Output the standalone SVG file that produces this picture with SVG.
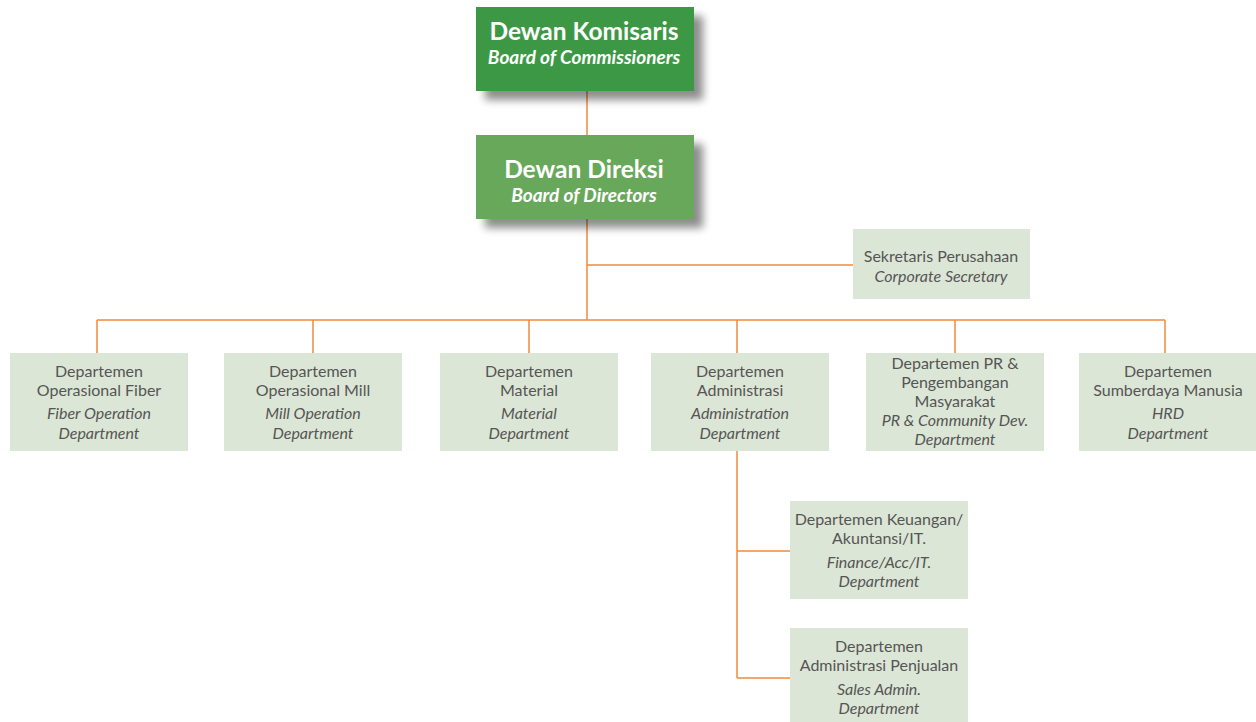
<svg xmlns="http://www.w3.org/2000/svg" width="1256" height="722" viewBox="0 0 1256 722">
<defs>
<filter id="sh" x="-20%" y="-30%" width="150%" height="170%">
<feGaussianBlur in="SourceAlpha" stdDeviation="4"/>
<feOffset dx="9" dy="9" result="b"/>
<feComponentTransfer><feFuncA type="linear" slope="0.45"/></feComponentTransfer>
<feMerge><feMergeNode/><feMergeNode in="SourceGraphic"/></feMerge>
</filter>
</defs>
<style>
.dept{fill:#dce6d6}
.t{font-family:Lato,"Open Sans",sans-serif;font-size:16px;fill:#555;text-anchor:middle}
.i{font-style:italic}
.h{font-family:Lato,"Open Sans",sans-serif;fill:#fff;text-anchor:middle;font-weight:bold}
.ln{stroke:#f08a3c;stroke-width:1.5;fill:none}
</style>
<rect width="1256" height="722" fill="#fff"/>
<g id="connectors">
<path class="ln" d="M587 91V135M587 219V320M587 265H853M97 320H1165M97 320V353M313 320V353M529 320V353M737 320V353M955 320V353M1165 320V353M737 451V678M737 551H790M737 678H790"/>
</g>
<g id="komisaris">
<rect x="476" y="7" width="218" height="84" fill="#3e9844" filter="url(#sh)"/>
<text class="h" x="584" y="40" font-size="24.5">Dewan Komisaris</text>
<text class="h i" x="584" y="64" font-size="19">Board of Commissioners</text>
</g>
<g id="direksi">
<rect x="476" y="135" width="218" height="84" fill="#68a85a" filter="url(#sh)"/>
<text class="h" x="584" y="178" font-size="24.5">Dewan Direksi</text>
<text class="h i" x="584" y="202" font-size="19">Board of Directors</text>
</g>
<g id="sekretaris">
<rect class="dept" x="853" y="229" width="177" height="70"/>
<text class="t" x="941" y="262">Sekretaris Perusahaan</text>
<text class="t i" x="941" y="282">Corporate Secretary</text>
</g>
<g id="fiber">
<rect class="dept" x="10" y="353" width="178" height="98"/>
<text class="t" x="99" y="377">Departemen</text>
<text class="t" x="99" y="396">Operasional Fiber</text>
<text class="t i" x="99" y="419">Fiber Operation</text>
<text class="t i" x="99" y="439">Department</text>
</g>
<g id="mill">
<rect class="dept" x="224" y="353" width="178" height="98"/>
<text class="t" x="313" y="377">Departemen</text>
<text class="t" x="313" y="396">Operasional Mill</text>
<text class="t i" x="313" y="419">Mill Operation</text>
<text class="t i" x="313" y="439">Department</text>
</g>
<g id="material">
<rect class="dept" x="440" y="353" width="178" height="98"/>
<text class="t" x="529" y="377">Departemen</text>
<text class="t" x="529" y="396">Material</text>
<text class="t i" x="529" y="419">Material</text>
<text class="t i" x="529" y="439">Department</text>
</g>
<g id="administrasi">
<rect class="dept" x="651" y="353" width="178" height="98"/>
<text class="t" x="740" y="377">Departemen</text>
<text class="t" x="740" y="396">Administrasi</text>
<text class="t i" x="740" y="419">Administration</text>
<text class="t i" x="740" y="439">Department</text>
</g>
<g id="pr">
<rect class="dept" x="866" y="353" width="178" height="98"/>
<text class="t" x="955" y="369">Departemen PR &amp;</text>
<text class="t" x="955" y="388">Pengembangan</text>
<text class="t" x="955" y="407">Masyarakat</text>
<text class="t i" x="955" y="426">PR &amp; Community Dev.</text>
<text class="t i" x="955" y="445">Department</text>
</g>
<g id="hrd">
<rect class="dept" x="1079" y="353" width="177" height="98"/>
<text class="t" x="1168" y="377">Departemen</text>
<text class="t" x="1168" y="396">Sumberdaya Manusia</text>
<text class="t i" x="1168" y="419">HRD</text>
<text class="t i" x="1168" y="439">Department</text>
</g>
<g id="keuangan">
<rect class="dept" x="790" y="501" width="178" height="98"/>
<text class="t" x="879" y="525">Departemen Keuangan/</text>
<text class="t" x="879" y="544">Akuntansi/IT.</text>
<text class="t i" x="879" y="568">Finance/Acc/IT.</text>
<text class="t i" x="879" y="587">Department</text>
</g>
<g id="penjualan">
<rect class="dept" x="790" y="628" width="178" height="94"/>
<text class="t" x="879" y="652">Departemen</text>
<text class="t" x="879" y="671">Administrasi Penjualan</text>
<text class="t i" x="879" y="695">Sales Admin.</text>
<text class="t i" x="879" y="714">Department</text>
</g>
</svg>
